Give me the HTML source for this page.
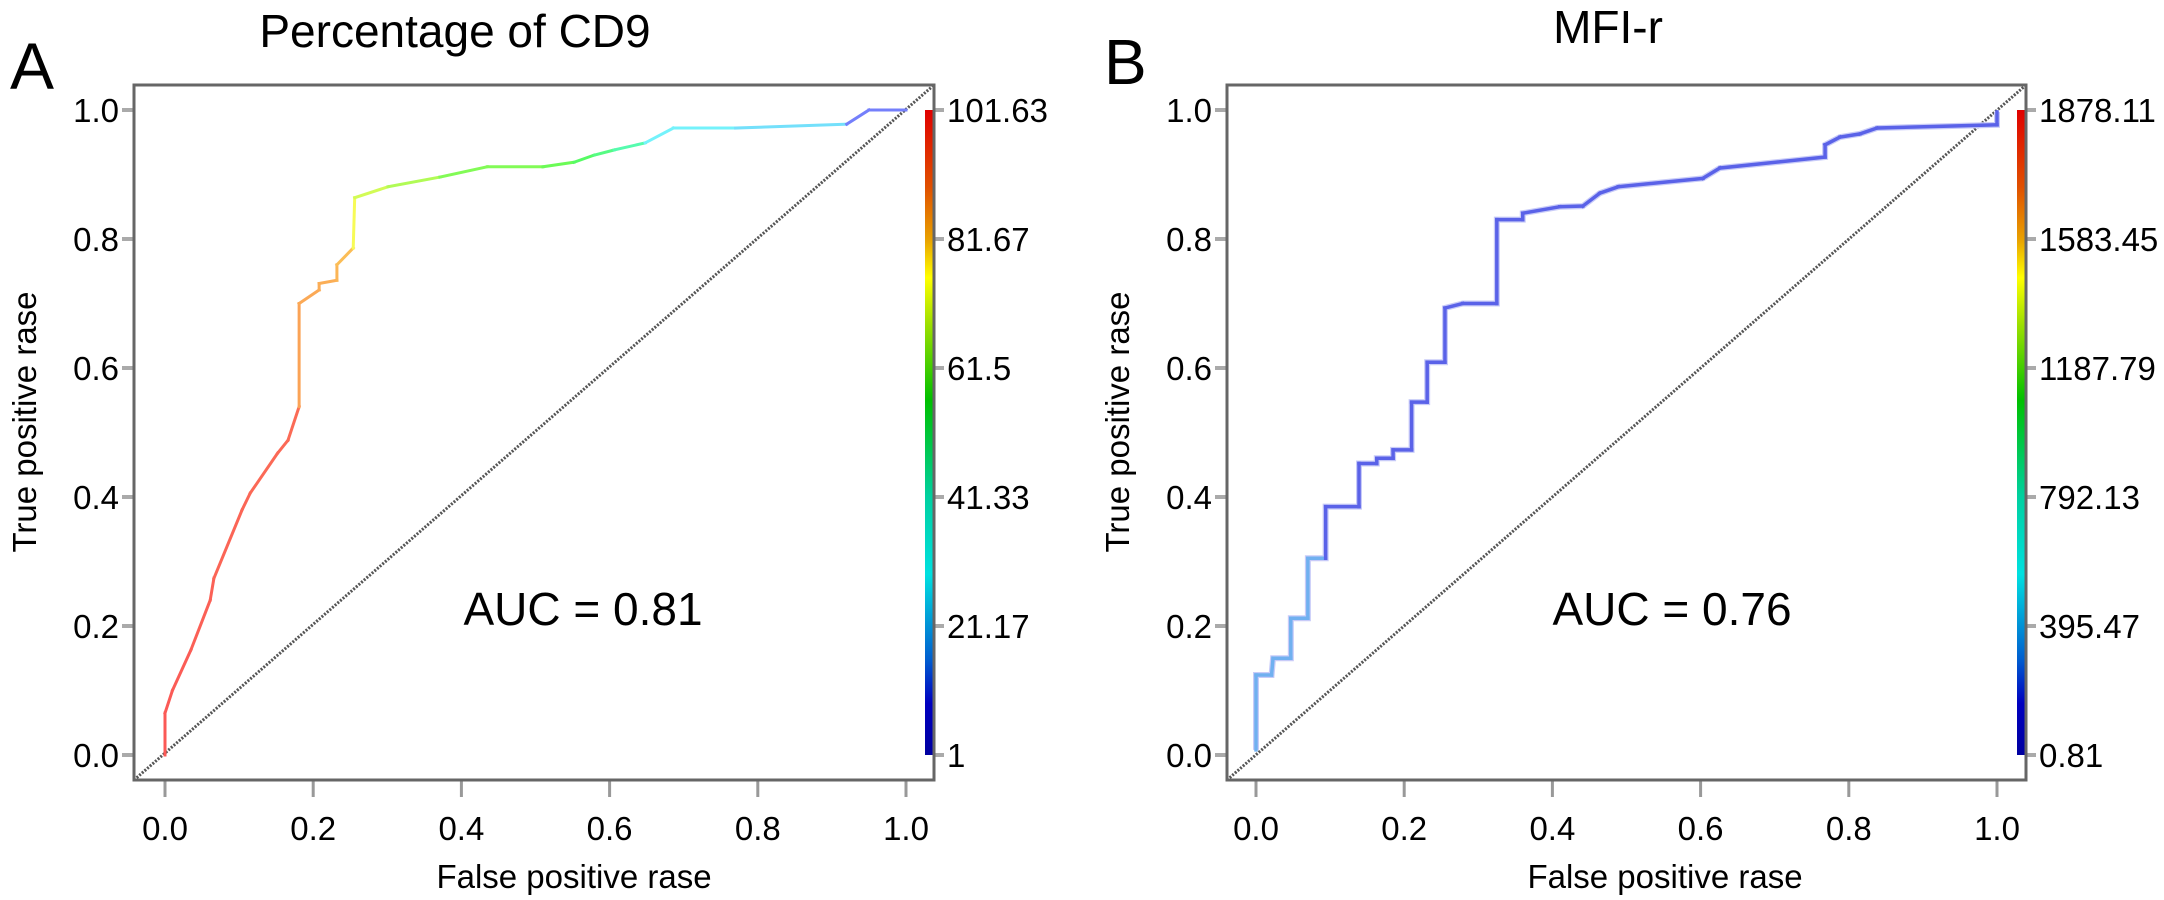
<!DOCTYPE html>
<html><head><meta charset="utf-8"><style>
html,body{margin:0;padding:0;background:#fff;}
svg{display:block;font-family:"Liberation Sans",Arial,sans-serif;}
</style></head><body>
<svg id="chart" width="2164" height="900" viewBox="0 0 2164 900" xmlns="http://www.w3.org/2000/svg">
<defs>
<linearGradient id="rainbow" x1="0" y1="0" x2="0" y2="1">
<stop offset="0" stop-color="#e00000"/><stop offset="0.12" stop-color="#e05000"/>
<stop offset="0.2" stop-color="#e8a000"/><stop offset="0.26" stop-color="#ffff00"/>
<stop offset="0.33" stop-color="#a0e000"/><stop offset="0.45" stop-color="#00c000"/>
<stop offset="0.6" stop-color="#00d0a0"/><stop offset="0.72" stop-color="#00e0e0"/>
<stop offset="0.85" stop-color="#0060d0"/><stop offset="0.92" stop-color="#0000c0"/>
<stop offset="1" stop-color="#0000a0"/>
</linearGradient>
</defs>
<text x="10" y="89" font-size="66">A</text>
<text x="1104" y="84" font-size="64">B</text>
<text x="455" y="47" font-size="46" text-anchor="middle">Percentage of CD9</text>
<text x="1608" y="43" font-size="46" text-anchor="middle">MFI-r</text>
</svg>
<script>
// Panel A data
const fprA = [0,0,0.01,0.035,0.061,0.066,0.104,0.115,0.152,0.166,0.181,0.181,0.208,0.208,0.232,0.232,0.254,0.256,0.301,0.371,0.435,0.510,0.552,0.579,0.606,0.648,0.686,0.77,0.92,0.95,1.0];
const tprA = [0,0.065,0.10,0.163,0.24,0.274,0.38,0.406,0.468,0.488,0.54,0.70,0.721,0.731,0.736,0.76,0.786,0.864,0.881,0.896,0.912,0.912,0.919,0.930,0.938,0.949,0.972,0.972,0.978,1.0,1.0];
// Panel B data
const fprB = [0,0,0.021,0.023,0.047,0.047,0.070,0.070,0.094,0.094,0.139,0.139,0.163,0.163,0.185,0.185,0.210,0.210,0.231,0.231,0.255,0.255,0.279,0.325,0.325,0.36,0.36,0.41,0.441,0.464,0.489,0.603,0.626,0.768,0.768,0.788,0.815,0.838,1.0,1.0];
const tprB = [0.008,0.124,0.124,0.150,0.150,0.212,0.212,0.305,0.305,0.385,0.385,0.452,0.452,0.460,0.460,0.473,0.473,0.547,0.547,0.609,0.609,0.693,0.700,0.700,0.830,0.830,0.840,0.850,0.851,0.871,0.881,0.894,0.910,0.927,0.946,0.958,0.963,0.972,0.977,0.997];
const ticks = [0,0.2,0.4,0.6,0.8,1.0];
const tickLabels = ["0.0","0.2","0.4","0.6","0.8","1.0"];
const cbLabelsA = ["1","21.17","41.33","61.5","81.67","101.63"];
const cbLabelsB = ["0.81","395.47","792.13","1187.79","1583.45","1878.11"];
const aucA = "AUC = 0.81";
const aucB = "AUC = 0.76";

const svg = document.getElementById('chart');
const NS = 'http://www.w3.org/2000/svg';
function mk(tag, attrs, parent){const e=document.createElementNS(NS,tag);for(const k in attrs)e.setAttribute(k,attrs[k]);(parent||svg).appendChild(e);return e;}

function hueFor(t){
  const st=[[0,0],[0.55,8],[0.7,28],[0.79,38],[0.86,58],[0.9,90],[0.93,125],[0.965,175],[0.98,195],[1,235]];
  for(let i=1;i<st.length;i++){if(t<=st[i][0]){const a=st[i-1],b=st[i];return a[1]+(b[1]-a[1])*(t-a[0])/(b[0]-a[0]);}}
  return 235;
}

function panel(o){
  const x=v=>o.x0+(o.x1-o.x0)*v, y=v=>755-645*v;
  const g=mk('g',{});
  
  
  ticks.forEach((t,i)=>{
    const yt=mk('line',{x1:o.bl-12,x2:o.bl,y1:y(t),y2:y(t),stroke:'#aaa','stroke-width':4},g);
    
    
    const yl=mk('text',{x:o.bl-15,y:y(t)+12,'font-size':33,'text-anchor':'end'},g);yl.textContent=tickLabels[i];
    
    
    const xt=mk('line',{x1:x(t),x2:x(t),y1:780,y2:797,stroke:'#999','stroke-width':3},g);
    
    
    const xl=mk('text',{x:x(t),y:840,'font-size':33,'text-anchor':'middle'},g);xl.textContent=tickLabels[i];
    
    
  });
  const cb=mk('rect',{x:o.br-9,y:110,width:9,height:645,fill:'url(#rainbow)'},g);
  
  
  o.cb.forEach((l,i)=>{
    mk('line',{x1:o.br,x2:o.br+10,y1:y(ticks[i]),y2:y(ticks[i]),stroke:'#aaa','stroke-width':4},g);
    const t=mk('text',{x:o.br+13,y:y(ticks[i])+12,'font-size':33},g);t.textContent=l;
    
    
  });
  const d=mk('line',{x1:x(-(o.x0-o.bl)/(o.x1-o.x0)),y1:780,x2:o.br,y2:85,stroke:'#555','stroke-width':3,'stroke-dasharray':'2,1.5'},g);
  
  
  const fp=o.fpr, tp=o.tpr;
  if(o.band){
    let pts=fp.map((v,i)=>x(v)+','+y(tp[i])).join(' ');
    const b=mk('polyline',{points:pts,fill:'none',stroke:'#c8cbf8','stroke-width':6},g);
    
    
  }
  for(let i=1;i<fp.length;i++){
    let col;
    if(o.band){ col = tp[i]<0.02?'#f07070':tp[i]<0.06?'#a0e060':tp[i]<0.1?'#80f0f0':tp[i]<0.33?'#70b0f0':'#5a62e8'; }
    else { col='hsl('+hueFor(tp[i])+',95%,'+(tp[i]>0.97?'72%':'66%')+')'; }
    const s=mk('line',{x1:x(fp[i-1]),y1:y(tp[i-1]),x2:x(fp[i]),y2:y(tp[i]),stroke:col,'stroke-width':o.band?3.5:3,'stroke-linecap':'square'},g);
    
    
  }
  const box=mk('rect',{x:o.bl,y:85,width:o.br-o.bl,height:695,fill:'none',stroke:'#666','stroke-width':3},g);
  
  
  const au=mk('text',{x:o.aucx,y:625,'font-size':46,'text-anchor':'middle'},g);au.textContent=o.auc;
  
  
  const xa=mk('text',{x:o.xtx,y:888,'font-size':33,'text-anchor':'middle'},g);xa.textContent='False positive rase';
  
  
  const ya=mk('text',{x:0,y:0,'font-size':33,'text-anchor':'middle',transform:'translate('+(o.bl-98)+',422) rotate(-90)'},g);ya.textContent='True positive rase';
  
  
}
panel({name:'panel-a',x0:165,x1:906,bl:134,br:934,fpr:fprA,tpr:tprA,cb:cbLabelsA,auc:aucA,aucx:583,xtx:574,band:false});
panel({name:'panel-b',x0:1256,x1:1997,bl:1227,br:2026,fpr:fprB,tpr:tprB,cb:cbLabelsB,auc:aucB,aucx:1672,xtx:1665,band:true});
</script>
</body></html>
